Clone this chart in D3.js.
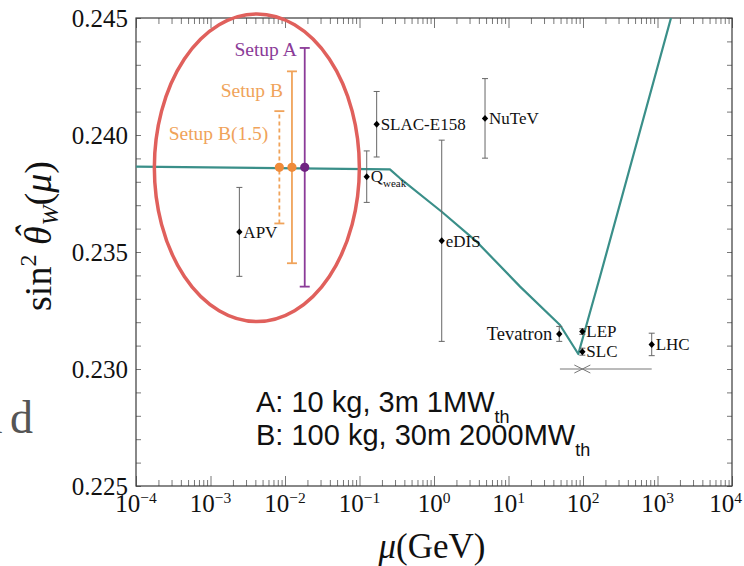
<!DOCTYPE html>
<html>
<head>
<meta charset="utf-8">
<script src="https://cdn.jsdelivr.net/npm/d3@7"></script>
<style>
  body { margin: 0; background: #fff; }
  svg { display: block; }
</style>
</head>
<body>
<script>
const width = 744;
const height = 566;
const margin = {
  top: 18,
  left: 136,
  right: 12,
  bottom: 80,
};
const board = {
  width: width - (margin.left + margin.right),
  height: height - (margin.top + margin.bottom),
};

// running of sin^2 theta_W (teal line)
const curveMu = [1e-4, 0.256, 0.350, 1.27, 3.74, 14.3, 49.1, 86.5, 169, 1517];
const curveValue = [0.23865, 0.23853, 0.23815, 0.23672, 0.23544, 0.23352, 0.23188, 0.23064, 0.23394, 0.24500];

// measurements
const expNames = ['APV', 'Q', 'SLAC-E158', 'eDIS', 'NuTeV', 'Tevatron', 'LEP', 'SLC', 'LHC'];
const expSub = ['', 'weak', '', '', '', '', '', '', ''];
const expMu = [0.00244, 0.125, 0.170, 1.27, 4.84, 48, 98, 98, 836];
const expValue = [0.23586, 0.23822, 0.24046, 0.23548, 0.24071, 0.23150, 0.23160, 0.23074, 0.23105];
const expError = [0.0019, 0.0011, 0.0014, 0.0043, 0.0017, 0.00032, 0.00012, 0.00015, 0.00048];

// Z pole horizontal bar
const zMu = 98;
const zValue = 0.2300;
const zRange = [49, 836];

// projected setups
const setupNames = ['Setup B(1.5)', 'Setup B', 'Setup A'];
const setupMu = [0.0084, 0.0124, 0.0184];
const setupValue = [0.23862, 0.23862, 0.23862];
const setupError = [0.0024, 0.0041, 0.0051];

// red ellipse: centre (mu, value), half width in decades, half height
const ringCentre = [0.00419, 0.2386];
const ringHalf = [1.376, 0.00657];

const xTickExp = [-4, -3, -2, -1, 0, 1, 2, 3, 4];
const yTicks = [0.225, 0.230, 0.235, 0.240, 0.245];
const yTickLabels = ['0.225', '0.230', '0.235', '0.240', '0.245'];
const yMinorStep = 0.001;

const teal = '#3a8f89';
const orange = '#f0a35a';
const purple = '#8b3b98';
const serif = 'Liberation Serif, Times New Roman, serif';
const sans = 'Liberation Sans, Arial, sans-serif';

const svg = d3.select('body')
  .append('svg')
    .attr('width', width)
    .attr('height', height)
    .attr('viewBox', [0, 0, width, height].join(' '));

const g = svg.append('g')
  .attr('transform', `translate(${margin.left}, ${margin.top})`);

const x = d3.scaleLog()
  .domain([1e-4, 1e4])
  .range([0, board.width]);

const y = d3.scaleLinear()
  .domain([0.225, 0.245])
  .range([board.height, 0]);

// ticks
const minorX = [];
xTickExp.slice(0, -1).forEach((e) => {
  for (let m = 2; m <= 9; m++) minorX.push(m * Math.pow(10, e));
});
const majorX = xTickExp.map((e) => Math.pow(10, e));
const minorY = d3.range(Math.round((0.245 - 0.225) / yMinorStep) + 1).map((i) => 0.225 + i * yMinorStep);

const tickAxis = (axis, values, size) => axis.tickValues(values).tickSize(-size).tickSizeOuter(0).tickFormat('');

const axes = g.append('g').attr('class', 'axes');
axes.append('g').attr('transform', `translate(0, ${board.height})`).call(tickAxis(d3.axisBottom(x), minorX, 6));
axes.append('g').attr('transform', `translate(0, ${board.height})`).call(tickAxis(d3.axisBottom(x), majorX, 10));
axes.append('g').call(tickAxis(d3.axisTop(x), minorX, 6));
axes.append('g').call(tickAxis(d3.axisTop(x), majorX, 10));
axes.append('g').call(tickAxis(d3.axisLeft(y), minorY, 5));
axes.append('g').attr('transform', `translate(${board.width}, 0)`).call(tickAxis(d3.axisRight(y), minorY, 5));
axes.selectAll('.domain').remove();
axes.selectAll('.tick line').attr('stroke', '#777').attr('stroke-width', 1);

g.append('rect')
  .attr('width', board.width)
  .attr('height', board.height)
  .attr('fill', 'none')
  .attr('stroke', '#3a3a3a')
  .attr('stroke-width', 1.2);

// tick labels
g.selectAll('.ylab')
  .data(yTicks)
  .enter()
  .append('text')
    .attr('class', 'ylab')
    .attr('x', -8)
    .attr('y', (d) => y(d))
    .attr('dy', '0.34em')
    .attr('text-anchor', 'end')
    .attr('font-family', serif)
    .attr('font-size', 25)
    .attr('fill', '#111')
    .text((d, i) => yTickLabels[i]);

const lastExp = xTickExp[xTickExp.length - 1];
const xl = g.selectAll('.xlab')
  .data(xTickExp)
  .enter()
  .append('text')
    .attr('class', 'xlab')
    .attr('x', (d) => (d === lastExp ? board.width + 10 : x(Math.pow(10, d))))
    .attr('y', board.height + 26)
    .attr('text-anchor', (d) => (d === lastExp ? 'end' : 'middle'))
    .attr('font-family', serif)
    .attr('fill', '#111');
xl.append('tspan').attr('font-size', 25).text('10');
xl.append('tspan').attr('font-size', 15.5).attr('dy', -9).text((d) => (d < 0 ? '\u2212' : '') + Math.abs(d));

// axis titles
const xt = svg.append('text')
  .attr('x', margin.left + board.width / 2 - 2)
  .attr('y', 558)
  .attr('text-anchor', 'middle')
  .attr('font-family', serif)
  .attr('font-size', 35)
  .attr('fill', '#111');
xt.append('tspan').attr('font-style', 'italic').text('\u03bc');
xt.append('tspan').text('(GeV)');

const yt = svg.append('text')
  .attr('transform', 'translate(51, 236) rotate(-90)')
  .attr('text-anchor', 'middle')
  .attr('font-family', serif)
  .attr('font-size', 38)
  .attr('fill', '#111');
yt.append('tspan').text('sin');
yt.append('tspan').attr('font-size', 24).attr('dy', -15).text('2');
const theta = yt.append('tspan').attr('dy', 15).attr('font-style', 'italic').text('\u00a0\u03b8');
const hat = yt.append('tspan').attr('font-style', 'italic').text('\u02c6');
const wSub = yt.append('tspan').attr('font-size', 24).attr('font-style', 'italic').text('W');
yt.append('tspan').attr('dy', -7).text('(');
yt.append('tspan').attr('font-style', 'italic').text('\u03bc');
yt.append('tspan').text(')');

// centre the hat over theta
const thetaW = theta.node().getSubStringLength(1, 1);
const hatW = hat.node().getComputedTextLength();
hat.attr('dx', -thetaW / 2 - hatW / 2 + 3).attr('dy', -9);
wSub.attr('dx', thetaW / 2 - hatW / 2 - 3 + 1).attr('dy', 16);

// clip for the curve
g.append('clipPath').attr('id', 'board')
  .append('rect').attr('width', board.width).attr('height', board.height);

const line = d3.line()
  .x((d) => x(d[0]))
  .y((d) => y(d[1]));

g.append('path')
  .datum(curveMu.map((m, i) => [m, curveValue[i]]))
  .attr('clip-path', 'url(#board)')
  .attr('fill', 'none')
  .attr('stroke', teal)
  .attr('stroke-width', 2.2)
  .attr('stroke-linejoin', 'round')
  .attr('d', line);

// measurements
const diamond = {
  draw(context, size) {
    const r = Math.sqrt(size) / 2;
    context.moveTo(0, -r * 1.1);
    context.lineTo(r, 0);
    context.lineTo(0, r * 1.1);
    context.lineTo(-r, 0);
    context.closePath();
  },
};

const exps = expNames.map((name, i) => ({ name, sub: expSub[i], mu: expMu[i], value: expValue[i], err: expError[i] }));

const eg = g.selectAll('.exp')
  .data(exps)
  .enter()
  .append('g')
    .attr('class', 'exp')
    .attr('transform', (d) => `translate(${x(d.mu)}, 0)`);

eg.append('line')
  .attr('y1', (d) => y(d.value - d.err))
  .attr('y2', (d) => y(d.value + d.err))
  .attr('stroke', '#666');
eg.append('line')
  .attr('x1', -3).attr('x2', 3)
  .attr('y1', (d) => y(d.value + d.err)).attr('y2', (d) => y(d.value + d.err))
  .attr('stroke', '#666');
eg.append('line')
  .attr('x1', -3).attr('x2', 3)
  .attr('y1', (d) => y(d.value - d.err)).attr('y2', (d) => y(d.value - d.err))
  .attr('stroke', '#666');
eg.append('path')
  .attr('transform', (d) => `translate(0, ${y(d.value)})`)
  .attr('d', d3.symbol(diamond, 40))
  .attr('fill', '#000');

const et = eg.append('text')
  .attr('x', (d) => (d.name === 'Tevatron' ? -7 : 4))
  .attr('y', (d) => y(d.value))
  .attr('dy', '0.34em')
  .attr('text-anchor', (d) => (d.name === 'Tevatron' ? 'end' : 'start'))
  .attr('font-family', serif)
  .attr('font-size', (d) => (d.name === 'Tevatron' ? 18.5 : 17))
  .attr('fill', '#111');
et.append('tspan').text((d) => d.name);
et.append('tspan').attr('font-size', 11).attr('dy', 5).text((d) => d.sub);

// Z pole range
const zg = g.append('g').attr('stroke', '#777').attr('stroke-width', 1);
zg.append('line')
  .attr('x1', x(zRange[0])).attr('x2', x(zRange[1]))
  .attr('y1', y(zValue)).attr('y2', y(zValue));
zg.append('line')
  .attr('x1', x(zMu) - 8).attr('x2', x(zMu) + 8)
  .attr('y1', y(zValue) - 4).attr('y2', y(zValue) + 4);
zg.append('line')
  .attr('x1', x(zMu) - 8).attr('x2', x(zMu) + 8)
  .attr('y1', y(zValue) + 4).attr('y2', y(zValue) - 4);

// setups
const setups = setupNames.map((name, i) => ({ name, mu: setupMu[i], value: setupValue[i], err: setupError[i] }));
const setupStyle = {
  'Setup B(1.5)': { color: orange, dot: '#ef8b3a', dash: '4,3', labelDy: 22, labelDx: -11 },
  'Setup B': { color: orange, dot: '#ef8b3a', dash: null, labelDy: 19, labelDx: -9 },
  'Setup A': { color: purple, dot: '#6f2281', dash: null, labelDy: 1, labelDx: -8 },
};

const sg = g.selectAll('.setup')
  .data(setups)
  .enter()
  .append('g')
    .attr('class', 'setup')
    .attr('transform', (d) => `translate(${x(d.mu)}, 0)`);

sg.append('line')
  .attr('y1', (d) => y(d.value - d.err))
  .attr('y2', (d) => y(d.value + d.err))
  .attr('stroke', (d) => setupStyle[d.name].color)
  .attr('stroke-width', 1.8)
  .attr('stroke-dasharray', (d) => setupStyle[d.name].dash);
[1, -1].forEach((s) => {
  sg.append('line')
    .attr('x1', -5).attr('x2', 5)
    .attr('y1', (d) => y(d.value + s * d.err)).attr('y2', (d) => y(d.value + s * d.err))
    .attr('stroke', (d) => setupStyle[d.name].color)
    .attr('stroke-width', 1.8);
});
sg.append('circle')
  .attr('cy', (d) => y(d.value))
  .attr('r', 4.6)
  .attr('fill', (d) => setupStyle[d.name].dot);
sg.append('text')
  .attr('x', (d) => setupStyle[d.name].labelDx)
  .attr('y', (d) => y(d.value + d.err) + setupStyle[d.name].labelDy)
  .attr('dy', '0.34em')
  .attr('text-anchor', 'end')
  .attr('font-family', serif)
  .attr('font-size', 19.5)
  .attr('fill', (d) => setupStyle[d.name].color)
  .text((d) => d.name);

// red ellipse
const cx = x(ringCentre[0]);
const rx = (x(ringCentre[0] * Math.pow(10, ringHalf[0])) - x(ringCentre[0] / Math.pow(10, ringHalf[0]))) / 2;
const ry = (y(ringCentre[1] - ringHalf[1]) - y(ringCentre[1] + ringHalf[1])) / 2;
g.append('ellipse')
  .attr('cx', cx)
  .attr('cy', y(ringCentre[1]))
  .attr('rx', rx)
  .attr('ry', ry)
  .attr('fill', 'none')
  .attr('stroke', '#e0605c')
  .attr('stroke-width', 3.5);

// note
const notes = ['A: 10 kg, 3m 1MW', 'B: 100 kg, 30m 2000MW'];
notes.forEach((t, i) => {
  const n = svg.append('text')
    .attr('x', 256)
    .attr('y', 412 + i * 33)
    .attr('font-family', sans)
    .attr('font-size', 29)
    .attr('fill', '#111');
  n.append('tspan').text(t);
  n.append('tspan').attr('font-size', 18).attr('dy', 11).text('th');
});

// fragment of slide text on the left
const frag = svg.append('text')
  .attr('x', 33)
  .attr('y', 433)
  .attr('text-anchor', 'end')
  .attr('font-family', serif)
  .attr('font-size', 46)
  .attr('fill', '#555');
frag.append('tspan').text('n');
frag.append('tspan').attr('dx', 7.5).text('d');
</script>
</body>
</html>
